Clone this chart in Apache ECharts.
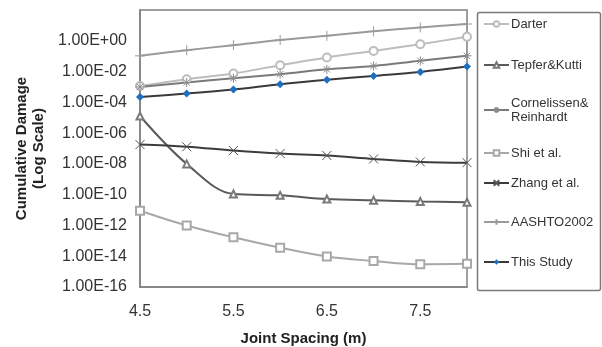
<!DOCTYPE html>
<html><head><meta charset="utf-8">
<script src="https://cdn.jsdelivr.net/npm/echarts@6/dist/echarts.min.js"></script>
<style>html,body{margin:0;padding:0;background:#fff}#c{width:602px;height:347px}</style>
</head><body><div id="c"></div>
<script>
var categories = ['4.5','5','5.5','6','6.5','7','7.5','8'];
var darter = [1.15e-3, 3.2e-3, 7.4e-3, 2.6e-2, 8.3e-2, 0.22, 0.6, 1.8];
var tepfer = [1.3e-5, 1.0e-8, 1.1e-10, 9e-11, 5.2e-11, 4.3e-11, 3.6e-11, 3.2e-11];
var cornelissen = [1.0e-3, 1.95e-3, 3.7e-3, 6.8e-3, 1.4e-2, 2.3e-2, 5.0e-2, 0.105];
var shi = [9.1e-12, 1.0e-12, 1.7e-13, 3.6e-14, 9.5e-15, 4.9e-15, 3.0e-15, 3.2e-15];
var zhang = [1.8e-7, 1.3e-7, 7.4e-8, 4.7e-8, 3.5e-8, 2.1e-8, 1.35e-8, 1.2e-8];
var aashto = [0.105, 0.245, 0.52, 1.12, 2.1, 4.1, 7.4, 12.3];
var thisStudy = [2.2e-4, 3.7e-4, 6.8e-4, 1.5e-3, 2.9e-3, 5.2e-3, 9.5e-3, 2.1e-2];
var seriesNames = ['Darter','Tepfer&Kutti','Cornelissen&\nReinhardt','Shi et al.','Zhang et al.','AASHTO2002','This Study'];

var PLUS = 'path://M0,5L10,5M5,0L5,10';
var CROSS = 'path://M0,0L10,10M10,0L0,10';
var STAR = 'path://M0,5L10,5M5,0L5,10M1.5,1.5L8.5,8.5M8.5,1.5L1.5,8.5';

function fmt(v){
  var e = Math.round(Math.log(v)/Math.LN10);
  if (e > 0) return '';
  var a = Math.abs(e);
  return '1.00E' + (e < 0 ? '-' : '+') + (a < 10 ? '0' : '') + a;
}
function mk(name, data, color, symbol, size, opts){
  var s = {
    name: name, type: 'line', data: data, smooth: 0.35,
    symbol: symbol, symbolSize: size,
    lineStyle: {color: color, width: 2},
    itemStyle: {color: color, borderWidth: 1},
    emphasis: {disabled: true}
  };
  if (opts) for (var k in opts) s[k] = opts[k];
  return s;
}
var series = [
  mk(seriesNames[0], darter, '#bdbdbd', 'emptyCircle', 8),
  mk(seriesNames[1], tepfer, '#5a5a5a', 'emptyTriangle', 7, {itemStyle:{color:'#7a7a7a', borderWidth:1}}),
  mk(seriesNames[2], cornelissen, '#7a7a7a', STAR, 9, {itemStyle:{color:'none', borderColor:'#8a8a8a', borderWidth:1}}),
  mk(seriesNames[3], shi, '#a8a8a8', 'emptyRect', 8),
  mk(seriesNames[4], zhang, '#3c3c3c', CROSS, 9, {itemStyle:{color:'none', borderColor:'#555', borderWidth:1}}),
  mk(seriesNames[5], aashto, '#9a9a9a', PLUS, 10, {itemStyle:{color:'none', borderColor:'#9a9a9a', borderWidth:1}}),
  mk(seriesNames[6], thisStudy, '#3a3a3a', 'diamond', 8, {itemStyle:{color:'#1f6fc0'}})
];
var legendTops = [17, 58, 96, 146, 176, 215, 255];
var legends = seriesNames.map(function(n, i){
  return {
    data: [n], left: 483, top: legendTops[i], orient: 'vertical',
    itemWidth: 25, itemHeight: 7, itemGap: 0, padding: 0,
    textStyle: {fontFamily: 'Liberation Sans, Arial', fontSize: 13, color: '#333', lineHeight: 14, padding:[0,0,0,-3]},
    selectedMode: false
  };
});
var chart = echarts.init(document.getElementById('c'), null, {renderer: 'canvas'});
chart.setOption({
  animation: false,
  backgroundColor: '#fff',
  grid: {left: 140, right: 135, top: 10, bottom: 60, show: true, borderColor: '#808080', borderWidth: 1.5, containLabel: false, outerBoundsMode: 'none'},
  legend: legends,
  xAxis: {
    type: 'category', data: categories, boundaryGap: false,
    name: 'Joint Spacing (m)', nameLocation: 'middle', nameGap: 44,
    nameTextStyle: {fontFamily: 'Liberation Sans, Arial', fontSize: 15, fontWeight: 'bold', color: '#222'},
    axisLine: {show: true, lineStyle: {color: '#808080', width: 1.5}},
    axisTick: {show: false},
    axisLabel: {interval: 1, margin: 17, fontFamily: 'Liberation Sans, Arial', fontSize: 16, color: '#333'},
    splitLine: {show: false}
  },
  yAxis: {
    type: 'log', logBase: 10, min: 1e-16, max: 1e2, interval: 2,
    name: 'Cumulative Damage\n(Log Scale)', nameLocation: 'middle', nameGap: 92, nameRotate: 90,
    nameTextStyle: {fontFamily: 'Liberation Sans, Arial', fontSize: 15, fontWeight: 'bold', color: '#222', lineHeight: 17},
    axisLine: {show: true, lineStyle: {color: '#808080', width: 1.5}},
    axisTick: {show: false},
    axisLabel: {formatter: fmt, margin: 13, fontFamily: 'Liberation Sans, Arial', fontSize: 16, color: '#333'},
    splitLine: {show: false}
  },
  graphic: [{
    type: 'rect', left: 475, top: 10, shape: {width: 123, height: 278, r: 2},
    style: {fill: 'none', stroke: '#7a7a7a', lineWidth: 1.5}, silent: true, z: -1
  }],
  series: series
});
</script></body></html>
